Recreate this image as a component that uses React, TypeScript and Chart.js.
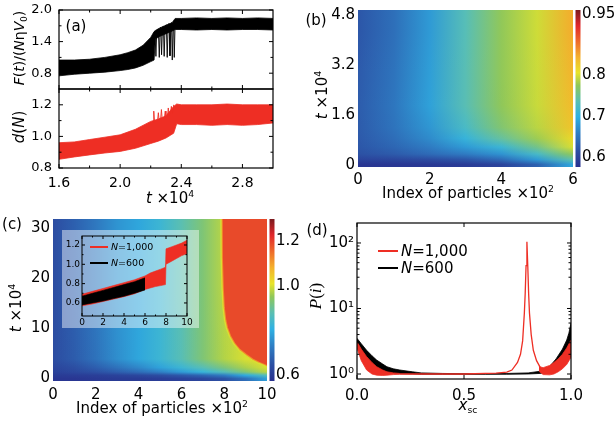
import React, { useEffect, useRef } from "react";
import { Chart, registerables } from "chart.js";

Chart.register(...registerables);
const SANS = "'DejaVu Sans', sans-serif";
Chart.defaults.font.family = SANS;
Chart.defaults.color = "#000";
if (typeof document !== "undefined") document.body.style.margin = "0";

const RED = "#ee2e24";
const BLACK = "#000000";

// ---------- (a) ----------
const aXTicks = [1.6, 2.0, 2.4, 2.8];
const aXMinor = [1.8, 2.2, 2.6];
const aTopYTicks = [0.8, 1.4, 2.0];
const aTopYMinor = [1.1, 1.7];
const aBotYTicks = [0.8, 1.0, 1.2];
const aBotYMinor = [0.9, 1.1];

const aBlackT = [1.6, 1.7, 1.8, 1.9, 2.0, 2.05, 2.1, 2.15, 2.2, 2.222, 2.23, 2.26, 2.3, 2.34, 2.36, 2.4, 2.5, 2.6, 2.7, 2.8, 2.9, 3.0];
const aBlackHi = [1.05, 1.05, 1.065, 1.1, 1.15, 1.19, 1.24, 1.33, 1.48, 1.59, 1.61, 1.66, 1.71, 1.76, 1.84, 1.84, 1.85, 1.84, 1.85, 1.84, 1.85, 1.84];
const aBlackLo = [0.75, 0.78, 0.8, 0.82, 0.85, 0.87, 0.9, 0.95, 1.02, 1.05, 1.45, 1.5, 1.55, 1.6, 1.63, 1.63, 1.62, 1.63, 1.62, 1.63, 1.63, 1.62];
const aBlackSpikeT = [2.228, 2.234, 2.24, 2.25, 2.256, 2.262, 2.266, 2.271, 2.277, 2.283, 2.288, 2.294, 2.302, 2.308, 2.314, 2.32, 2.326, 2.332, 2.336, 2.341, 2.347, 2.35, 2.354, 2.36];
const aBlackSpikeV = [1.6, 1.12, 1.62, 1.64, 1.1, 1.66, 1.67, 1.15, 1.68, 1.69, 1.12, 1.7, 1.72, 1.1, 1.73, 1.74, 1.13, 1.75, 1.76, 1.05, 1.77, 1.78, 1.1, 1.8];

const aRedT = [1.6, 1.7, 1.8, 1.9, 2.0, 2.1, 2.2, 2.25, 2.3, 2.35, 2.37, 2.4, 2.5, 2.6, 2.7, 2.8, 2.9, 3.0];
const aRedHi = [0.96, 0.965, 0.98, 0.995, 1.01, 1.045, 1.095, 1.11, 1.13, 1.19, 1.205, 1.2, 1.2, 1.2, 1.205, 1.2, 1.2, 1.2];
const aRedLo = [0.855, 0.87, 0.883, 0.895, 0.905, 0.925, 0.955, 0.97, 0.99, 1.02, 1.08, 1.075, 1.075, 1.07, 1.075, 1.07, 1.075, 1.085];
const aRedSpikeT = [2.215, 2.22, 2.225, 2.245, 2.25, 2.255, 2.265, 2.27, 2.275, 2.29, 2.295, 2.3, 2.31, 2.315, 2.32, 2.33, 2.335, 2.34, 2.345, 2.35];
const aRedSpikeV = [1.09, 1.16, 1.09, 1.1, 1.15, 1.1, 1.11, 1.17, 1.11, 1.12, 1.16, 1.12, 1.13, 1.18, 1.13, 1.15, 1.19, 1.15, 1.16, 1.2];

// ---------- (b) heatmap ----------
const bXTicks = [0, 2, 4, 6];
const bYTicks = [0, 1.6, 3.2, 4.8];
const bCbTicks = [0.6, 0.7, 0.8, 0.95];
const bCols = [0, 1, 2, 3, 4, 5, 6];
const bRowEdges = [-0.064, 0.1, 0.25, 0.45, 0.7, 1.0, 1.4, 2.4, 3.6, 4.96];
const bGrid = [
  [0.583, 0.584, 0.586, 0.59, 0.6, 0.63, 0.69],
  [0.6, 0.603, 0.61, 0.62, 0.64, 0.68, 0.74],
  [0.615, 0.625, 0.64, 0.655, 0.675, 0.72, 0.775],
  [0.62, 0.635, 0.655, 0.68, 0.71, 0.755, 0.8],
  [0.623, 0.642, 0.668, 0.705, 0.745, 0.78, 0.815],
  [0.625, 0.647, 0.677, 0.722, 0.765, 0.79, 0.83],
  [0.626, 0.65, 0.686, 0.735, 0.775, 0.795, 0.837],
  [0.624, 0.647, 0.683, 0.735, 0.776, 0.796, 0.842],
  [0.62, 0.644, 0.68, 0.733, 0.776, 0.797, 0.847],
];

// ---------- (c) heatmap ----------
const cXTicks = [0, 2, 4, 6, 8, 10];
const cYTicks = [0, 10, 20, 30];
const cCbTicks = [0.6, 1.0, 1.2];
const cCols = [0, 1, 2, 3, 4, 5, 6, 7, 8, 9, 10];
const cRowEdges = [-0.6, 0.3, 0.8, 1.6, 2.6, 5, 31.8];
const cGrid = [
  [0.59, 0.59, 0.595, 0.6, 0.6, 0.605, 0.615, 0.625, 0.65, 0.7, 0.78],
  [0.6, 0.605, 0.61, 0.62, 0.63, 0.645, 0.665, 0.69, 0.73, 0.8, 0.87],
  [0.615, 0.63, 0.65, 0.675, 0.7, 0.735, 0.775, 0.82, 0.87, 0.93, 0.98],
  [0.625, 0.645, 0.675, 0.71, 0.745, 0.785, 0.83, 0.875, 0.925, 0.97, 1.0],
  [0.64, 0.67, 0.71, 0.755, 0.79, 0.83, 0.875, 0.93, 0.975, 1.0, 1.02],
  [0.64, 0.677, 0.72, 0.764, 0.79, 0.83, 0.88, 0.93, 0.98, 1.0, 1.02],
];
const cBoundX = [7.85, 7.86, 7.9, 7.95, 8.02, 8.1, 8.25, 8.45, 8.7, 9.0, 9.3, 9.6, 9.85, 10.0, 10.3];
const cBoundT = [31.8, 24, 18, 14, 11.5, 10, 8.3, 6.8, 5.5, 4.5, 3.6, 2.95, 2.5, 2.2, 2.0];
const cRedValue = 1.19;
const cEdgeOuter = 1.12;
const cEdgeInner = 1.0;

// ---------- (c) inset ----------
const iXTicks = [0, 2, 4, 6, 8, 10];
const iXMinor = [1, 3, 5, 7, 9];
const iYTicks = [0.6, 0.8, 1.0, 1.2];
const iYMinor = [0.7, 0.9, 1.1];
const iRedX = [0, 1, 2, 3, 4, 5, 6, 6.5, 7, 7.5, 7.95, 8.0, 8.5, 9, 9.5, 10];
const iRedHi = [0.69, 0.72, 0.75, 0.78, 0.81, 0.84, 0.88, 0.91, 0.93, 0.95, 0.97, 1.16, 1.18, 1.2, 1.22, 1.25];
const iRedLo = [0.57, 0.59, 0.615, 0.64, 0.665, 0.695, 0.74, 0.755, 0.77, 0.78, 0.79, 1.0, 1.03, 1.06, 1.09, 1.11];
const iBlackX = [0, 1, 2, 3, 4, 5, 6];
const iBlackHi = [0.67, 0.7, 0.73, 0.76, 0.79, 0.82, 0.86];
const iBlackLo = [0.58, 0.6, 0.62, 0.645, 0.67, 0.7, 0.735];

// ---------- (d) ----------
const dXTicks = [0, 0.5, 1.0];
const dYTicks = [1, 10, 100];
const dYMinor = [2, 3, 4, 5, 6, 7, 8, 9, 20, 30, 40, 50, 60, 70, 80, 90];
const dBlackX = [0, 0.02, 0.045, 0.07, 0.092, 0.12, 0.14, 0.17, 0.2, 0.26, 0.3, 0.4, 0.5, 0.6, 0.7, 0.8, 0.855, 0.9, 0.93, 0.96, 0.98, 0.99, 1.0];
const dBlackHi = [3.5, 2.9, 2.3, 1.9, 1.63, 1.42, 1.29, 1.2, 1.15, 1.08, 1.04, 1.02, 1.01, 1.01, 1.02, 1.04, 1.1, 1.3, 1.7, 2.4, 3.3, 4.2, 6.0];
const dBlackLo = [2.6, 2.0, 1.54, 1.33, 1.18, 1.1, 1.05, 1.02, 1.01, 1.0, 0.99, 0.99, 0.99, 0.99, 0.99, 1.0, 1.02, 1.08, 1.2, 1.4, 1.8, 2.1, 2.5];
const dRedLeftX = [0, 0.02, 0.045, 0.07, 0.092, 0.12, 0.14, 0.17, 0.2];
const dRedLeftHi = [3.1, 2.4, 1.84, 1.5, 1.29, 1.15, 1.08, 1.04, 1.02];
const dRedLeftLo = [2.5, 1.6, 1.15, 1.0, 0.96, 0.95, 0.96, 0.98, 0.99];
const dRedPeakX = [0.2, 0.3, 0.5, 0.65, 0.7, 0.724, 0.75, 0.764, 0.774, 0.782, 0.786, 0.79, 0.794, 0.798, 0.802, 0.806, 0.814, 0.824, 0.839, 0.86];
const dRedPeakY = [1.0, 1.0, 1.0, 1.03, 1.07, 1.15, 1.5, 2.0, 3.2, 8.5, 17, 45, 104, 45, 17, 8.5, 4, 2.3, 1.6, 1.2];
const dRedRightX = [0.85, 0.87, 0.9, 0.92, 0.94, 0.96, 0.98, 1.0];
const dRedRightHi = [1.3, 1.25, 1.35, 1.5, 1.7, 2.0, 2.5, 3.3];
const dRedRightLo = [1.1, 0.98, 0.97, 1.0, 1.08, 1.2, 1.4, 1.8];

// ---------- colormap (style) ----------
const CMAP: [number, string][] = [
  [0, "#28308e"], [0.1, "#2c4fa3"], [0.22, "#2f80c5"], [0.32, "#2fb1e3"], [0.42, "#5bbfb2"],
  [0.52, "#8fc75a"], [0.6, "#e8e42a"], [0.7, "#f4b12c"], [0.8, "#ee6a2a"], [0.9, "#e1272b"], [1, "#7b1a1e"],
];
function hex(h: string) {
  return [parseInt(h.slice(1, 3), 16), parseInt(h.slice(3, 5), 16), parseInt(h.slice(5, 7), 16)];
}
function cmapColor(f: number) {
  const t = Math.max(0, Math.min(1, f));
  for (let i = 0; i < CMAP.length - 1; i++) {
    const [f0, c0] = CMAP[i];
    const [f1, c1] = CMAP[i + 1];
    if (t <= f1) {
      const u = (t - f0) / (f1 - f0);
      const a = hex(c0), b = hex(c1);
      return `rgb(${Math.round(a[0] + (b[0] - a[0]) * u)},${Math.round(a[1] + (b[1] - a[1]) * u)},${Math.round(a[2] + (b[2] - a[2]) * u)})`;
    }
  }
  return CMAP[CMAP.length - 1][1];
}

const pts = (xs: number[], ys: number[]) => xs.map((x, i) => ({ x, y: ys[i] }));

function ax(pos: string, min: number, max: number, ticks: number[], fmt: (v: number) => string, size: number, font: number, pad: number, show = true, type = "linear") {
  return {
    type, position: pos, min, max,
    grid: { display: false, drawTicks: false },
    border: { display: false },
    ticks: {
      display: show, padding: pad, font: { family: SANS, size: font }, color: "#000",
      autoSkip: false, maxRotation: 0, minRotation: 0,
      callback: (v: any) => fmt(Number(v)),
    },
    afterBuildTicks: (s: any) => { s.ticks = ticks.map((v) => ({ value: v })); },
    afterFit: (s: any) => {
      if (pos === "left" || pos === "right") s.width = size; else s.height = size;
      s.paddingLeft = 0; s.paddingRight = 0; s.paddingTop = 0; s.paddingBottom = 0;
    },
  };
}

function framePlugin(o: { xMajor: number[]; xMinor?: number[]; yMajor: number[]; yMinor?: number[]; len: number; minorLen: number; lw?: number }) {
  return {
    id: "frame",
    afterDraw(chart: any) {
      const { ctx, chartArea: a, scales } = chart;
      const xs = scales.x, ys = scales.y;
      ctx.save();
      ctx.strokeStyle = "#000";
      ctx.lineWidth = o.lw ?? 1.2;
      ctx.strokeRect(a.left, a.top, a.right - a.left, a.bottom - a.top);
      const tickX = (v: number, l: number) => {
        const p = xs.getPixelForValue(v);
        ctx.beginPath(); ctx.moveTo(p, a.bottom); ctx.lineTo(p, a.bottom - l); ctx.moveTo(p, a.top); ctx.lineTo(p, a.top + l); ctx.stroke();
      };
      const tickY = (v: number, l: number) => {
        const p = ys.getPixelForValue(v);
        ctx.beginPath(); ctx.moveTo(a.left, p); ctx.lineTo(a.left + l, p); ctx.moveTo(a.right, p); ctx.lineTo(a.right - l, p); ctx.stroke();
      };
      ctx.lineWidth = 1;
      o.xMajor.forEach((v) => tickX(v, o.len));
      (o.xMinor || []).forEach((v) => tickX(v, o.minorLen));
      o.yMajor.forEach((v) => tickY(v, o.len));
      (o.yMinor || []).forEach((v) => tickY(v, o.minorLen));
      ctx.restore();
    },
  };
}

// Heatmap rows: each row is a horizontal colour gradient through its cells; neighbouring rows are
// shaded into one another between their centre lines, one pixel line at a time.
function heatPlugin(cols: number[], edges: number[], grid: number[][], after?: (chart: any, color: (v: number) => string) => void) {
  return {
    id: "heat",
    beforeDatasetsDraw(chart: any) {
      const { ctx, chartArea: a, scales } = chart;
      const xs = scales.x, ys = scales.y, cb = scales.cb;
      const color = (v: number) => cmapColor((v - cb.min) / (cb.max - cb.min));
      ctx.save();
      ctx.beginPath(); ctx.rect(a.left, a.top, a.right - a.left, a.bottom - a.top); ctx.clip();
      const x0 = xs.getPixelForValue(cols[0]);
      const x1 = xs.getPixelForValue(cols[cols.length - 1]);
      const ePx = edges.map((e) => ys.getPixelForValue(e));
      const n = grid.length;
      const cPx = grid.map((_, i) => (ePx[i] + ePx[i + 1]) / 2);
      const grads = grid.map((row) => {
        const g = ctx.createLinearGradient(x0, 0, x1, 0);
        row.forEach((v, j) => g.addColorStop((xs.getPixelForValue(cols[j]) - x0) / (x1 - x0), color(v)));
        return g;
      });
      const L = Math.floor(a.left), W = Math.ceil(a.right) - L;
      for (let y = Math.floor(a.top); y < Math.ceil(a.bottom); y++) {
        const yc = y + 0.5;
        let k = -1;
        for (let i = 0; i < n; i++) if (cPx[i] >= yc) k = i;
        if (k === -1) {
          ctx.fillStyle = grads[0]; ctx.fillRect(L, y, W, 1);
        } else if (k === n - 1) {
          ctx.fillStyle = grads[n - 1]; ctx.fillRect(L, y, W, 1);
        } else {
          ctx.fillStyle = grads[k]; ctx.fillRect(L, y, W, 1);
          ctx.globalAlpha = (cPx[k] - yc) / (cPx[k] - cPx[k + 1]);
          ctx.fillStyle = grads[k + 1]; ctx.fillRect(L, y, W, 1);
          ctx.globalAlpha = 1;
        }
      }
      if (after) after(chart, color);
      ctx.restore();
    },
  };
}

function colorbarPlugin(gap: number, w: number) {
  return {
    id: "cbar",
    afterDraw(chart: any) {
      const { ctx, chartArea: a } = chart;
      const g = ctx.createLinearGradient(0, a.bottom, 0, a.top);
      CMAP.forEach(([f, c]) => g.addColorStop(f, c));
      ctx.save();
      ctx.fillStyle = g;
      ctx.fillRect(a.right + gap, a.top, w, a.bottom - a.top);
      ctx.restore();
    },
  };
}

const overlayPlugin = {
  id: "overlay",
  beforeDraw(chart: any) {
    const { ctx, width, height } = chart;
    ctx.save();
    ctx.fillStyle = "rgba(255,255,255,0.45)";
    ctx.fillRect(0, 0, width, height);
    ctx.restore();
  },
};

function base(scales: any, padding: any) {
  return {
    responsive: false, animation: false, events: [],
    layout: { padding },
    plugins: { legend: { display: false }, tooltip: { enabled: false } },
    scales,
  };
}

function line(data: any, color: string, width: number, order: number, fill: any = false) {
  return { data, borderColor: color, borderWidth: width, pointRadius: 0, fill, backgroundColor: color, tension: 0, clip: 0, order };
}

const f1 = (v: number) => v.toFixed(1);
const f0 = (v: number) => String(v);
const fcb = (v: number) => (v === 0.95 ? "0.95" : v.toFixed(1));
const fsup = (v: number) => "10" + ["\u2070", "\u00b9", "\u00b2"][Math.round(Math.log10(v))];

const makeA1 = () => ({
  type: "line",
  data: {
    datasets: [
      line(pts(aBlackT, aBlackLo), BLACK, 0.8, 2),
      line(pts(aBlackT, aBlackHi), BLACK, 0.8, 1, "-1"),
      line(pts(aBlackSpikeT, aBlackSpikeV), BLACK, 0.9, 0),
    ],
  },
  options: base({
    x: ax("bottom", 1.6, 3.0, aXTicks, f1, 0, 14, 7, false),
    y: ax("left", 0.5, 2.0, aTopYTicks, f1, 50, 13, 7),
  }, { top: 10, right: 12, bottom: 5, left: 0 }),
  plugins: [framePlugin({ xMajor: aXTicks, xMinor: aXMinor, yMajor: aTopYTicks, yMinor: aTopYMinor, len: 4, minorLen: 2.5 })],
});

const makeA2 = () => ({
  type: "line",
  data: {
    datasets: [
      line(pts(aRedT, aRedLo), RED, 0.8, 2),
      line(pts(aRedT, aRedHi), RED, 0.8, 1, "-1"),
      line(pts(aRedSpikeT, aRedSpikeV), RED, 0.9, 0),
    ],
  },
  options: base({
    x: ax("bottom", 1.6, 3.0, aXTicks, f1, 35, 14, 7),
    y: ax("left", 0.8, 1.3, aBotYTicks, f1, 50, 13, 7),
  }, { top: 10, right: 12, bottom: 0, left: 0 }),
  plugins: [framePlugin({ xMajor: aXTicks, xMinor: aXMinor, yMajor: aBotYTicks, yMinor: aBotYMinor, len: 4, minorLen: 2.5 })],
});

const makeB = () => ({
  type: "scatter",
  data: { datasets: [{ data: [] }] },
  options: base({
    x: ax("bottom", 0, 6, bXTicks, f0, 33, 15, 4),
    y: ax("left", -0.064, 4.96, bYTicks, (v) => (v === 0 ? "0" : v.toFixed(1)), 40, 15, 3),
    cb: ax("right", 0.575, 0.96, bCbTicks, fcb, 42, 15, 9),
  }, { top: 10, right: 0, bottom: 0, left: 0 }),
  plugins: [heatPlugin(bCols, bRowEdges, bGrid), colorbarPlugin(2.5, 5)],
});

const makeC = () => ({
  type: "scatter",
  data: { datasets: [{ data: [] }] },
  options: base({
    x: ax("bottom", 0, 10, cXTicks, f0, 30, 15, 5),
    y: ax("left", -0.6, 31.8, cYTicks, f0, 40, 15, 3),
    cb: ax("right", 0.575, 1.3, cCbTicks, f1, 36, 15, 9),
  }, { top: 12, right: 0, bottom: 0, left: 0 }),
  plugins: [
    heatPlugin(cCols, cRowEdges, cGrid, (chart, color) => {
      const { ctx, chartArea: a } = chart;
      const xs = chart.scales.x, ys = chart.scales.y;
      const edge = new Path2D();
      cBoundX.forEach((x, i) => {
        const px = xs.getPixelForValue(x), py = ys.getPixelForValue(cBoundT[i]);
        if (i === 0) { edge.moveTo(px, a.top - 3); edge.lineTo(px, py); } else edge.lineTo(px, py);
      });
      const region = new Path2D(edge);
      const lastY = ys.getPixelForValue(cBoundT[cBoundT.length - 1]);
      region.lineTo(a.right + 5, lastY);
      region.lineTo(a.right + 5, a.top - 3);
      region.closePath();
      ctx.fillStyle = color(cRedValue);
      ctx.fill(region);
      ctx.save();
      ctx.clip(region);
      ctx.strokeStyle = color(cEdgeOuter);
      ctx.lineWidth = 3.5;
      ctx.stroke(edge);
      ctx.restore();
      ctx.strokeStyle = color(cEdgeInner);
      ctx.lineWidth = 1.4;
      ctx.stroke(edge);
    }),
    colorbarPlugin(2.5, 5),
  ],
});

const makeInset = () => ({
  type: "line",
  data: {
    datasets: [
      line(pts(iRedX, iRedLo), RED, 0.6, 3),
      line(pts(iRedX, iRedHi), RED, 0.6, 2, "-1"),
      line(pts(iBlackX, iBlackLo), BLACK, 0.6, 1),
      line(pts(iBlackX, iBlackHi), BLACK, 0.6, 0, "-1"),
    ],
  },
  options: base({
    x: ax("bottom", 0, 10, iXTicks, f0, 12, 9, 1),
    y: ax("left", 0.465, 1.293, iYTicks, f1, 20, 9, 2),
  }, { top: 6, right: 12, bottom: 0, left: 0 }),
  plugins: [overlayPlugin, framePlugin({ xMajor: iXTicks, xMinor: iXMinor, yMajor: iYTicks, yMinor: iYMinor, len: 3, minorLen: 1.5, lw: 1 })],
});

const makeD = () => ({
  type: "line",
  data: {
    datasets: [
      line(pts(dBlackX, dBlackLo), BLACK, 0.8, 9),
      line(pts(dBlackX, dBlackHi), BLACK, 0.8, 8, "-1"),
      line(pts(dRedLeftX, dRedLeftLo), RED, 0.8, 5),
      line(pts(dRedLeftX, dRedLeftHi), RED, 0.8, 4, "-1"),
      line(pts(dRedRightX, dRedRightLo), RED, 0.8, 3),
      line(pts(dRedRightX, dRedRightHi), RED, 0.8, 2, "-1"),
      line(pts(dRedPeakX, dRedPeakY), RED, 1.3, 1),
    ],
  },
  options: base({
    x: ax("bottom", 0, 1, dXTicks, f1, 24, 15, 8),
    y: ax("left", 0.839, 201.8, dYTicks, fsup, 45, 15, 3, true, "logarithmic"),
  }, { top: 12, right: 16, bottom: 0, left: 0 }),
  plugins: [framePlugin({ xMajor: dXTicks, yMajor: dYTicks, yMinor: dYMinor, len: 4, minorLen: 2.5 })],
});

function ChartCanvas({ x, y, w, h, make }: any) {
  const ref = useRef<HTMLCanvasElement>(null);
  useEffect(() => {
    const c = new Chart(ref.current as HTMLCanvasElement, make());
    return () => c.destroy();
  }, []);
  return <canvas ref={ref} width={w} height={h} style={{ position: "absolute", left: x, top: y, width: w, height: h }} />;
}

function T({ x, y, size = 15, rot = false, family = SANS, children }: any) {
  return (
    <div style={{
      position: "absolute", left: x, top: y, transform: `translate(-50%,-50%)${rot ? " rotate(-90deg)" : ""}`,
      fontSize: size, fontFamily: family, whiteSpace: "nowrap", lineHeight: 1, color: "#000",
    }}>{children}</div>
  );
}
const Sup = ({ children }: any) => <span style={{ fontSize: "0.62em", position: "relative", top: "-0.6em" }}>{children}</span>;
const Sub = ({ children }: any) => <span style={{ fontSize: "0.62em", position: "relative", top: "0.35em" }}>{children}</span>;

function LegendItem({ x, y, color, lw, len, size, label }: any) {
  return (
    <>
      <div style={{ position: "absolute", left: x, top: y - lw / 2, width: len, height: lw, background: color }} />
      <div style={{ position: "absolute", left: x + len + 3, top: y, transform: "translateY(-50%)", fontSize: size, fontFamily: SANS, lineHeight: 1, whiteSpace: "nowrap" }}>
        <i>N</i>={label}
      </div>
    </>
  );
}

export default function App() {
  return (
    <div style={{ position: "relative", width: 616, height: 421, overflow: "hidden", background: "#fff", fontFamily: SANS }}>
      <ChartCanvas x={9} y={0} w={276} h={94} make={makeA1} />
      <ChartCanvas x={9} y={79} w={276} h={124} make={makeA2} />
      <ChartCanvas x={318} y={0} w={297} h={200} make={makeB} />
      <ChartCanvas x={13} y={207} w={290} h={204} make={makeC} />
      <ChartCanvas x={62} y={230} w={137} h={98} make={makeInset} />
      <ChartCanvas x={312} y={211} w={275} h={192} make={makeD} />

      <T x={76} y={26}>(a)</T>
      <T x={19} y={48} rot size={14}><i>F</i>(<i>t</i>)/(<i>N</i>η<i>V</i><Sub>0</Sub>)</T>
      <T x={19} y={127} rot size={15}><i>d</i>(<i>N</i>)</T>
      <T x={170} y={198}><i>t</i> ×10<Sup>4</Sup></T>

      <T x={316} y={20}>(b)</T>
      <T x={322} y={95} rot><i>t</i> ×10<Sup>4</Sup></T>
      <T x={468} y={193}>Index of particles ×10<Sup>2</Sup></T>

      <T x={12} y={224}>(c)</T>
      <T x={16} y={308} rot><i>t</i> ×10<Sup>4</Sup></T>
      <T x={162} y={408}>Index of particles ×10<Sup>2</Sup></T>
      <LegendItem x={90} y={247} color={RED} lw={1.5} len={18} size={9.5} label="1,000" />
      <LegendItem x={90} y={263} color={BLACK} lw={1.5} len={18} size={9.5} label="600" />

      <T x={317} y={230}>(d)</T>
      <T x={315} y={296} rot size={17} family="'Liberation Serif', serif"><i>P</i>(<i>i</i>)</T>
      <T x={468} y={405}><i>x</i><Sub>sc</Sub></T>
      <LegendItem x={378} y={251} color={RED} lw={2} len={20} size={15} label="1,000" />
      <LegendItem x={378} y={268} color={BLACK} lw={2} len={20} size={15} label="600" />
    </div>
  );
}
